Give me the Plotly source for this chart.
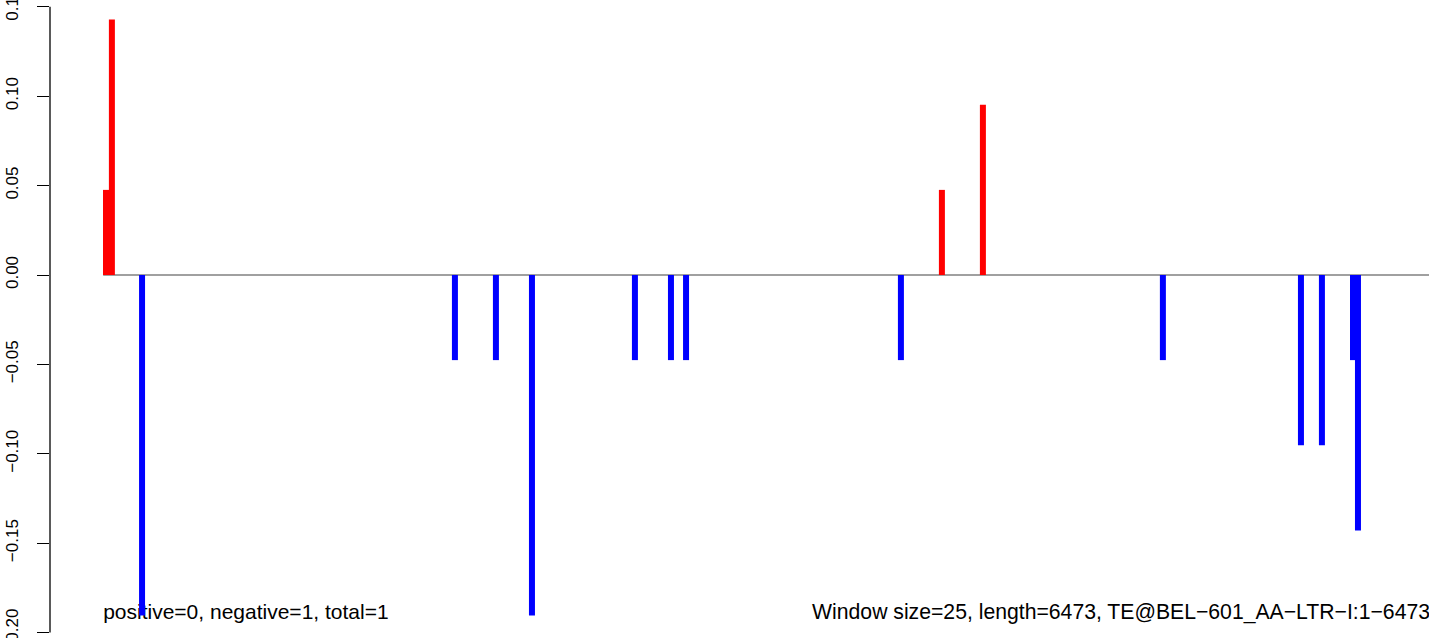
import plotly.graph_objects as go

# window centre positions (bp) and scores
pos_x = [13, 38, 3561, 3735]
pos_y = [0.0476, 0.1429, 0.0476, 0.0952]
neg_x = [166, 1494, 1668, 1821, 2258, 2411, 2475, 3387, 4499, 5085, 5174, 5306, 5327]
neg_y = [-0.1905, -0.0476, -0.0476, -0.1905, -0.0476, -0.0476, -0.0476,
         -0.0476, -0.0476, -0.0952, -0.0952, -0.0476, -0.1429]
seq_len = 6473
tick_vals = [-0.20, -0.15, -0.10, -0.05, 0.00, 0.05, 0.10, 0.15]
tick_text = ["\u22120.20", "\u22120.15", "\u22120.10", "\u22120.05", "0.00", "0.05", "0.10", "0.15"]
left_label = "positive=0, negative=1, total=1"
right_label = "Window size=25, length=6473, TE@BEL\u2212601_AA\u2212LTR\u2212I:1\u22126473"
label_y = -0.1895
right_label_x = 3010

FONT = "Liberation Sans, Arial, Helvetica, sans-serif"


def stems(xs, ys):
    X, Y = [], []
    for x, y in zip(xs, ys):
        X += [x, x, None]
        Y += [0, y, None]
    return X, Y


fig = go.Figure()

# labels (drawn first so bars sit on top, as in the reference)
fig.add_trace(go.Scatter(x=[1], y=[label_y], mode="text", text=[left_label],
                         textposition="middle right",
                         textfont=dict(size=21, color="black", family=FONT),
                         hoverinfo="skip", showlegend=False))
fig.add_trace(go.Scatter(x=[right_label_x], y=[label_y], mode="text", text=[right_label],
                         textposition="middle right",
                         textfont=dict(size=21.2, color="black", family=FONT),
                         hoverinfo="skip", showlegend=False, cliponaxis=False))

# zero line
fig.add_trace(go.Scatter(x=[1, seq_len], y=[0, 0], mode="lines",
                         line=dict(color="#808080", width=1.4),
                         hoverinfo="skip", showlegend=False))

px, py = stems(pos_x, pos_y)
nx, ny = stems(neg_x, neg_y)
fig.add_trace(go.Scatter(x=px, y=py, mode="lines",
                         line=dict(color="#ff0000", width=6),
                         showlegend=False))
fig.add_trace(go.Scatter(x=nx, y=ny, mode="lines",
                         line=dict(color="#0000ff", width=6),
                         showlegend=False))

fig.update_layout(
    width=1429, height=638,
    margin=dict(l=50, r=0, t=0, b=0, autoexpand=False),
    paper_bgcolor="white", plot_bgcolor="white",
    showlegend=False,
    xaxis=dict(range=[-224.7, 5628.5], visible=False, showgrid=False, zeroline=False,
               automargin=False),
    yaxis=dict(range=[-0.20302, 0.15380], showgrid=False, zeroline=False,
               showline=False, ticks="outside", ticklen=12, tickwidth=1.3,
               tickcolor="black", tickvals=tick_vals, ticktext=tick_text,
               tickangle=-90, automargin=False, ticklabeloverflow="allow",
               ticklabelstandoff=12,
               tickfont=dict(size=17, color="black", family=FONT)),
    shapes=[dict(type="line", xref="paper", yref="y", x0=0, x1=0,
                 y0=tick_vals[0], y1=tick_vals[-1],
                 line=dict(color="black", width=1.3), layer="above")],
)

fig.write_html("out.html", config={"displayModeBar": False},
               post_script="document.body.style.margin='0';document.body.style.overflow='hidden';")
